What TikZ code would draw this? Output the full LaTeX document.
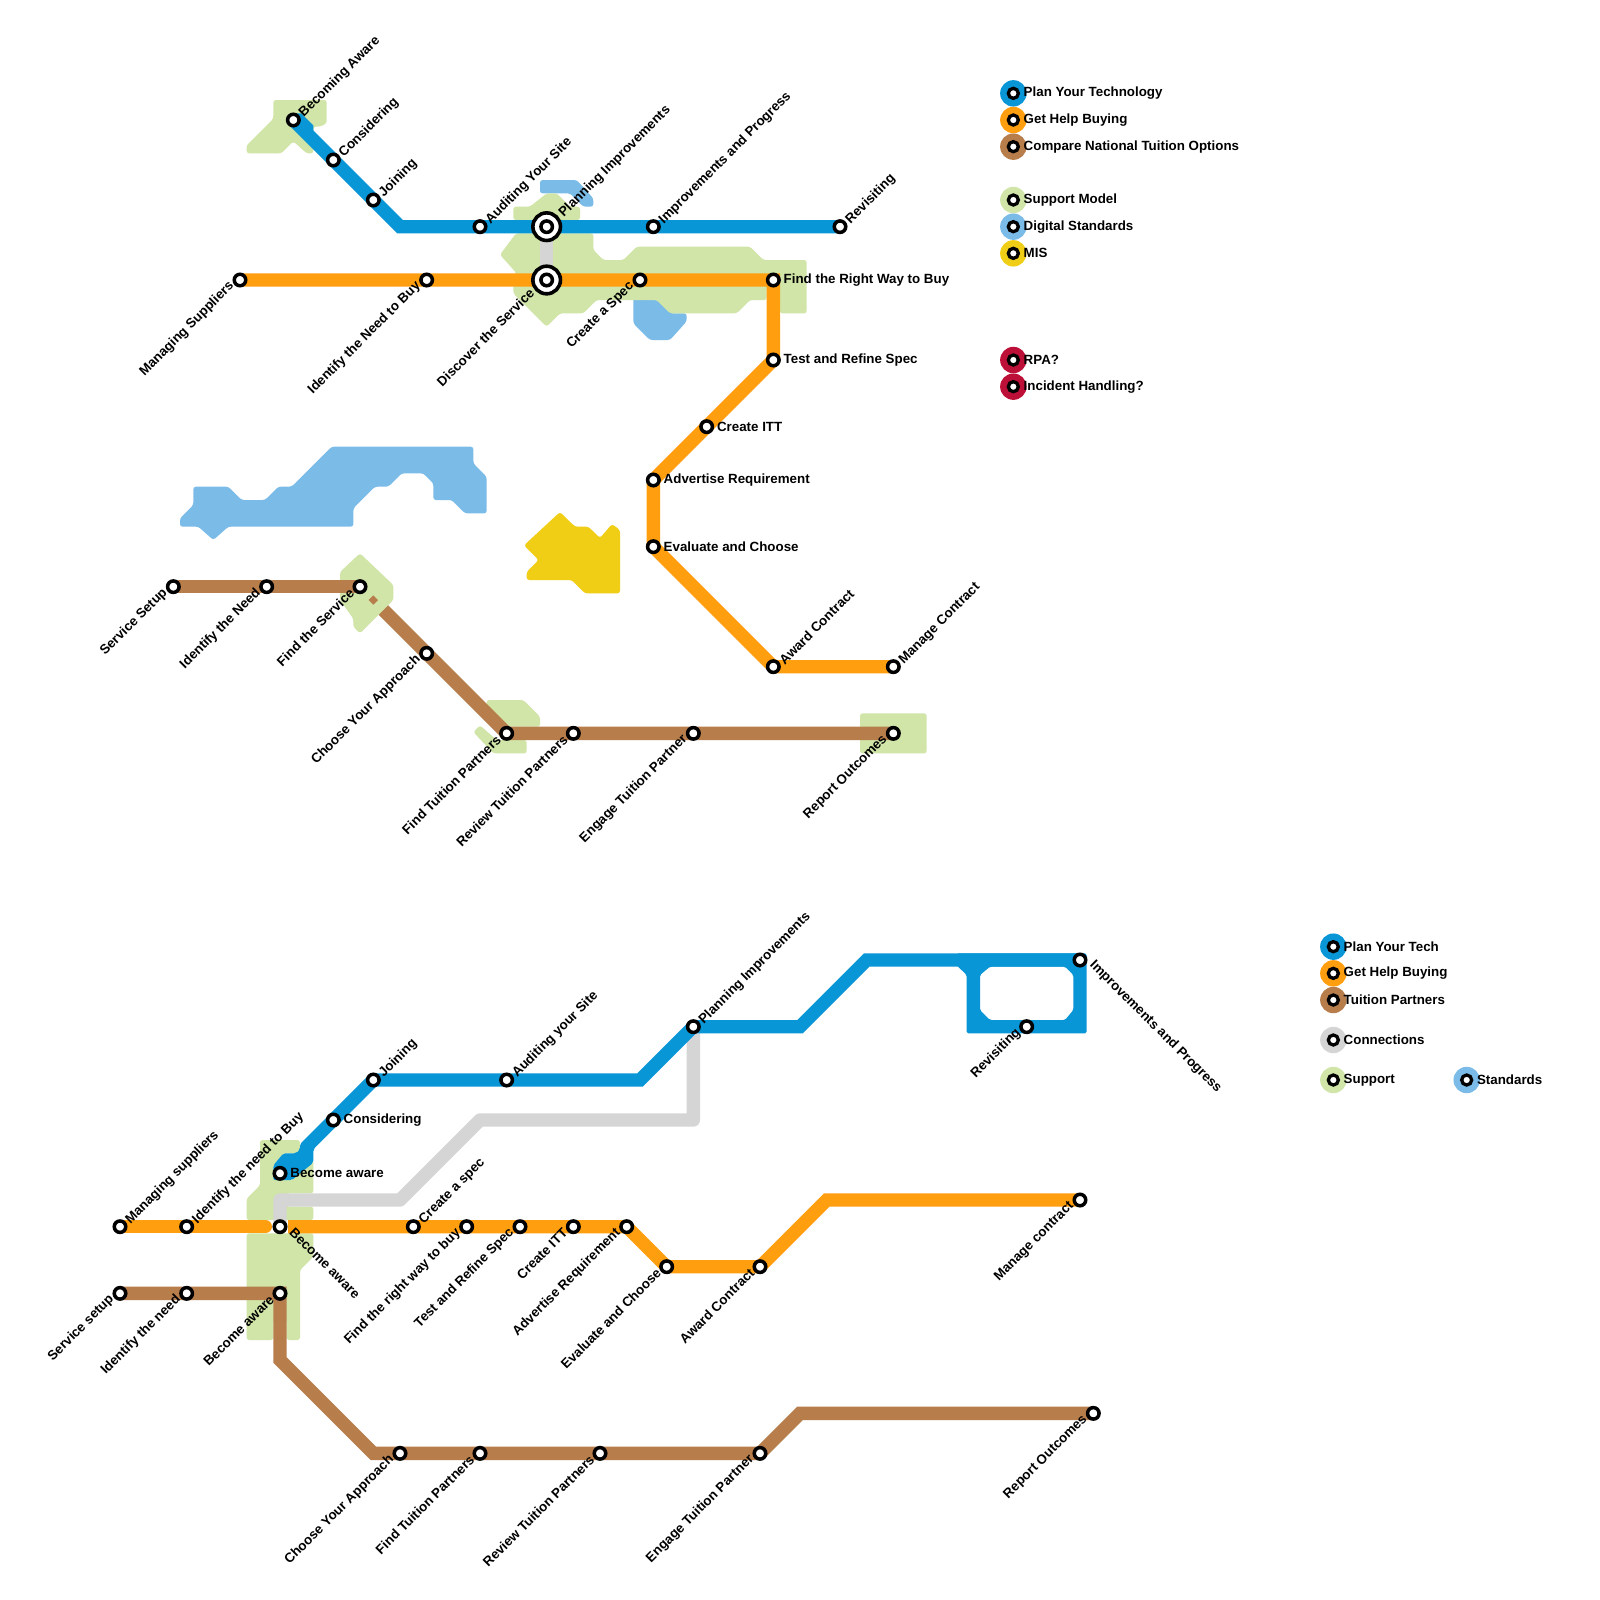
\documentclass[tikz,border=0pt]{standalone}
\usepackage{fontspec}
\setmainfont{Liberation Sans}
\pgfdeclarelayer{shapes}
\pgfdeclarelayer{rails}
\pgfsetlayers{shapes,rails,main}
\definecolor{cblue}{HTML}{0896D7}
\definecolor{corange}{HTML}{FF9E0F}
\definecolor{cbrown}{HTML}{B77D4B}
\definecolor{cgreen}{HTML}{D0E5A7}
\definecolor{csky}{HTML}{7ABBE8}
\definecolor{cyellow}{HTML}{F0CE15}
\definecolor{cgray}{HTML}{D5D5D5}
\definecolor{ccrim}{HTML}{BD1038}
\tikzset{
  stn/.style={circle,draw=black,fill=white,line width=1.75pt,minimum size=5.75pt,inner sep=0pt},
  legstn/.style={circle,draw=black,fill=white,line width=1.65pt,minimum size=5pt,inner sep=0pt},
  bigstn/.style={circle,draw=black,fill=white,line width=1.8pt,minimum size=13.8pt,inner sep=0pt},
  txt/.style={font=\fontsize{6.667}{7}\selectfont\bfseries,inner sep=0pt},
  lne/.style={txt,rotate=45,anchor=west,xshift=4.4pt,yshift=-1.2pt},
  lsw/.style={txt,rotate=45,anchor=east,xshift=-4.2pt,yshift=1.4pt},
  lse/.style={txt,rotate=-45,anchor=west,xshift=5.2pt,yshift=3pt},
  lrt/.style={txt,anchor=west,xshift=5pt},
  legt/.style={txt,anchor=west,xshift=5pt},
  rail/.style={line width=6.667pt,line join=miter,line cap=butt},
  blob/.style={rounded corners=1.3pt,draw=none},
  legdisc/.style={circle,inner sep=0pt,minimum size=13.2pt},
}
\newcommand{\stLbl}[5]{\node[stn] (#1) at (#2) {}; \node[#3] at (#1) {#4};}
\begin{document}
\begin{tikzpicture}[x=6.6667pt,y=-6.6667pt]
\useasboundingbox (0,0) rectangle (120,120);
\begin{pgfonlayer}{shapes}
\fill[white] (0,0) rectangle (120,120);
\end{pgfonlayer}

% ---- stations, upper map
\stLbl{a1}{22,9}{lne}{Becoming Aware}{}
\stLbl{a2}{25,12}{lne}{Considering}{}
\stLbl{a3}{28,15}{lne}{Joining}{}
\stLbl{a4}{36,17}{lne}{Auditing Your Site}{}
\stLbl{a6}{49,17}{lne}{Improvements and Progress}{}
\stLbl{a7}{63,17}{lne}{Revisiting}{}
\node[bigstn] (a5) at (41,17) {};
\node[stn] (a5i) at (41,17) {};
\node[lne] at (41.5,16.5) {Planning Improvements};
\coordinate (ac) at (30,17);

\stLbl{b1}{18,21}{lsw}{Managing Suppliers}{}
\stLbl{b2}{32,21}{lsw}{Identify the Need to Buy}{}
\node[bigstn] (b3) at (41,21) {};
\node[stn] (b3i) at (41,21) {};
\node[lsw] at (40.5,21.5) {Discover the Service};
\stLbl{b4}{48,21}{lsw}{Create a Spec}{}
\stLbl{b5}{58,21}{lrt}{Find the Right Way to Buy}{}
\stLbl{b6}{58,27}{lrt}{Test and Refine Spec}{}
\stLbl{b7}{53,32}{lrt}{Create ITT}{}
\stLbl{b8}{49,36}{lrt}{Advertise Requirement}{}
\stLbl{b9}{49,41}{lrt}{Evaluate and Choose}{}
\stLbl{b10}{58,50}{lne}{Award Contract}{}
\stLbl{b11}{67,50}{lne}{Manage Contract}{}

\stLbl{c1}{13,44}{lsw}{Service Setup}{}
\stLbl{c2}{20,44}{lsw}{Identify the Need}{}
\stLbl{c3}{27,44}{lsw}{Find the Service}{}
\stLbl{c4}{32,49}{lsw}{Choose Your Approach}{}
\stLbl{c5}{38,55}{lsw}{Find Tuition Partners}{}
\stLbl{c6}{43,55}{lsw}{Review Tuition Partners}{}
\stLbl{c7}{52,55}{lsw}{Engage Tuition Partner}{}
\stLbl{c8}{67,55}{lsw}{Report Outcomes}{}
\coordinate (c3b) at (28,45);

% ---- stations, lower map
\stLbl{d1}{21,88}{lrt}{Become aware}{}
\stLbl{d2}{25,84}{lrt}{Considering}{}
\stLbl{d3}{28,81}{lne}{Joining}{}
\stLbl{d4}{38,81}{lne}{Auditing your Site}{}
\stLbl{d5}{52,77}{lne}{Planning Improvements}{}
\stLbl{d6}{81,72}{lse}{Improvements and Progress}{}
\stLbl{d7}{77,77}{lsw}{Revisiting}{}
\coordinate (dc1) at (48,81);
\coordinate (dc2) at (60,77);
\coordinate (dc3) at (65,72);

\stLbl{e1}{9,92}{lne}{Managing suppliers}{}
\stLbl{e2}{14,92}{lne}{Identify the need to Buy}{}
\stLbl{e3}{21,92}{lse}{Become aware}{}
\stLbl{e4}{31,92}{lne}{Create a spec}{}
\stLbl{e5}{35,92}{lsw}{Find the right way to buy}{}
\stLbl{e6}{39,92}{lsw}{Test and Refine Spec}{}
\stLbl{e7}{43,92}{lsw}{Create ITT}{}
\stLbl{e8}{47,92}{lsw}{Advertise Requirement}{}
\stLbl{e9}{50,95}{lsw}{Evaluate and Choose}{}
\stLbl{e10}{57,95}{lsw}{Award Contract}{}
\stLbl{e11}{81,90}{lsw}{Manage contract}{}
\coordinate (ec) at (62,90);
\coordinate (ea) at (19.9,92);
\coordinate (eb) at (21.6,92);

\stLbl{f1}{9,97}{lsw}{Service setup}{}
\stLbl{f2}{14,97}{lsw}{Identify the need}{}
\stLbl{f3}{21,97}{lsw}{Become aware}{}
\stLbl{f4}{30,109}{lsw}{Choose Your Approach}{}
\stLbl{f5}{36,109}{lsw}{Find Tuition Partners}{}
\stLbl{f6}{45,109}{lsw}{Review Tuition Partners}{}
\stLbl{f7}{57,109}{lsw}{Engage Tuition Partner}{}
\stLbl{f8}{82,106}{lsw}{Report Outcomes}{}
\coordinate (fc1) at (21,102);
\coordinate (fc2) at (28,109);
\coordinate (fc3) at (60,106);

\coordinate (g1) at (21,90);
\coordinate (g2) at (30,90);
\coordinate (g3) at (36,84);
\coordinate (g4) at (52,84);

% ---- legends
\foreach \n/\y/\c/\t in {l1/7/cblue/Plan Your Technology,l2/9/corange/Get Help Buying,l3/11/cbrown/Compare National Tuition Options,l4/15/cgreen/Support Model,l5/17/csky/Digital Standards,l6/19/cyellow/MIS,l7/27/ccrim/RPA?,l8/29/ccrim/Incident Handling?}{
  \node[legdisc,fill=\c] (\n d) at (76,\y) {};
  \node[legstn] (\n) at (76,\y) {};
  \node[legt] at (\n) {\t};
}
\foreach \n/\x/\y/\c/\t in {m1/100/71/cblue/Plan Your Tech,m2/100/73/corange/Get Help Buying,m3/100/75/cbrown/Tuition Partners,m4/100/78/cgray/Connections,m5/100/81/cgreen/Support,m6/110/81/csky/Standards}{
  \node[legdisc,fill=\c] (\n d) at (\x,\y) {};
  \node[legstn] (\n) at (\x,\y) {};
  \node[legt] at (\n) {\t};
}

% ---- area shapes
\begin{pgfonlayer}{shapes}
\fill[csky,blob] (40.5,13.5)--(43.25,13.5)--(44.5,14.88)--(44.5,15.5)--(43.75,15.5)--(42.75,14.5)--(40.5,14.5)--cycle;
\fill[csky,blob] (47.5,22)--(49.25,22)--(50.25,23.5)--(51.5,23.5)--(51.5,24.1)--(50.25,25.5)--(48.75,25.5)--(47.5,24.25)--cycle;
\fill[csky,blob] (14.5,36.5)--(17.125,36.5)--(18.125,37.5)--(19.875,37.5)--(20.875,36.5)--(21.875,36.5)--(24.875,33.5)--(35.5,33.5)--(35.5,34.75)--(36.5,35.75)--(36.5,38.5)--(34.875,38.5)--(33.875,37.5)--(32.5,37.5)--(32.5,36.25)--(31.75,35.5)--(30.125,35.5)--(29.125,36.5)--(28.125,36.5)--(26.5,38.125)--(26.5,39.5)--(17.125,39.5)--(16,40.5)--(14.875,39.5)--(13.5,39.5)--(13.5,38.875)--(14.5,37.875)--cycle;
\draw[rail,cbrown] (c3b)--(c4.center);
\fill[cgreen,blob] (20.5,7.5)--(24.5,7.5)--(24.5,9.25)--(24,9.5)--(23.5,9.5)--(23.5,11.5)--(23,11.5)--(22,10.6)--(21.1,11.5)--(18.5,11.5)--(18.5,10.9)--(20.5,8.9)--cycle;
\fill[cgreen,blob] (38.5,15.5)--(39.75,15.5)--(41,14.5)--(41.75,14.5)--(42.75,15.5)--(43.5,15.5)--(43.5,16.5)--(38.5,16.5)--cycle;
\fill[cgreen,blob] (38.7,17.5)--(44.5,17.5)--(44.5,18.75)--(45.25,19.5)--(46.75,19.5)--(47.75,18.5)--(56.25,18.5)--(57.25,19.5)--(60.5,19.5)--(60.5,23.5)--(58.5,23.5)--(58.5,21.5)--(57.5,21.5)--(57.5,22.5)--(56.25,22.5)--(55.25,23.5)--(50.25,23.5)--(49.25,22.5)--(44.75,22.5)--(43.75,23.5)--(42,23.5)--(41,24.5)--(38.5,22)--(38.5,20.8)--(38.75,20.5)--(37.5,19.1)--cycle;
\fill[cgreen,blob] (27,41.5)--(29.5,43.875)--(29.5,45)--(27,47.5)--(26.5,47)--(26.5,46.4)--(25.5,45)--(25.5,42.9)--cycle;
\fill[cgreen,blob] (36.5,52.5)--(39.25,52.5)--(40.5,53.75)--(40.5,54.5)--(37.8,54.5)--(36.5,53.25)--cycle;
\fill[cgreen,blob] (35.5,54.9)--(36,54.4)--(37.25,55.5)--(39.5,55.5)--(39.5,56.5)--(37,56.5)--cycle;
\fill[cgreen,blob] (64.5,53.5)--(69.5,53.5)--(69.5,56.5)--(64.5,56.5)--cycle;
\fill[cyellow,blob] (42,38.4)--(43.125,39.5)--(44.125,39.5)--(45,40.35)--(45.9,39.3)--(46.5,39.75)--(46.5,44.5)--(43.875,44.5)--(42.875,43.5)--(39.5,43.5)--(39.5,42.9)--(40.4,42)--(39.3,40.9)--cycle;
\fill[cgreen,blob] (19.5,86.5)--(19.5,85.5)--(22.5,85.5)--(22.5,86.5)--(21.25,86.5)--(20.5,87.4)--(20.5,88.5)--(21.9,88.5)--(23.5,87)--(23.5,89.5)--(21.5,89.5)--(21.5,90.5)--(23.5,90.5)--(23.5,91.5)--(18.5,91.5)--(18.5,89.9)--(19.5,88.9)--cycle;
\fill[cgreen,blob] (18.5,92.5)--(23.5,92.5)--(23.5,94.25)--(22.5,95.25)--(22.5,100.5)--(21.5,100.5)--(21.5,99)--(20.5,99)--(20.5,100.5)--(18.5,100.5)--cycle;
\end{pgfonlayer}

% ---- lines
\begin{pgfonlayer}{rails}
\fill[cblue] (22,8.5)--(22.6,8.5)--(23.5,9.4)--(23.5,10.5)--cycle;
\draw[rail,cblue] (a1.center)--(a2.center)--(a3.center)--(ac)--(a4.center)--(a5.center)--(a6.center)--(a7.center);
\draw[rail,cgray] (a5.center)--(b3.center);
\draw[rail,corange] (b1.center)--(b2.center)--(b3.center)--(b4.center)--(b5.center)--(b6.center)--(b7.center)--(b8.center)--(b9.center)--(b10.center)--(b11.center);
\draw[rail,cbrown] (c1.center)--(c2.center)--(c3.center);
\draw[rail,cbrown] (c4.center)--(c5.center)--(c6.center)--(c7.center)--(c8.center);
\fill[cbrown] (27.65,45)--(28,44.65)--(28.35,45)--(28,45.35)--cycle;

\draw[rail,cgray,line join=round] (e3.center)--(g1)--(g2)--(g3)--(g4)--(d5.center);
\fill[cblue,rounded corners=1pt] (21.25,86.5)--(22.2,86.5)--(22.5,86.2)--(22.5,85.8)--(25,83.3)--(25.7,84)--(23.5,86.2)--(23.5,87.2)--(21.9,88.5)--(20.5,88.5)--(20.5,87.4)--cycle;
\draw[rail,cblue] (d2.center)--(d3.center)--(d4.center)--(dc1)--(d5.center)--(dc2)--(dc3)--(d6.center);
\fill[cblue,even odd rule,rounded corners=0.8pt] (71.75,72.4)--(72.5,73.125)--(72.5,77.5)--(81.5,77.5)--(81.5,71.5)--(71.75,71.5)--cycle
  (74.25,72.5)--(79.875,72.5)--(80.5,73.125)--(80.5,75.75)--(79.875,76.5)--(74.25,76.5)--(73.5,75.75)--(73.5,73.125)--cycle;
\draw[rail,corange,line cap=round] (ea)--(e2.center);
\draw[rail,corange] (e1.center)--(e2.center);
\draw[rail,corange] (eb)--(e4.center)--(e5.center)--(e6.center)--(e7.center)--(e8.center)--(e9.center)--(e10.center)--(ec)--(e11.center);
\draw[rail,cbrown] (f1.center)--(f2.center)--(f3.center)--(fc1)--(fc2)--(f4.center)--(f5.center)--(f6.center)--(f7.center)--(fc3)--(f8.center);
\end{pgfonlayer}
\end{tikzpicture}
\end{document}
